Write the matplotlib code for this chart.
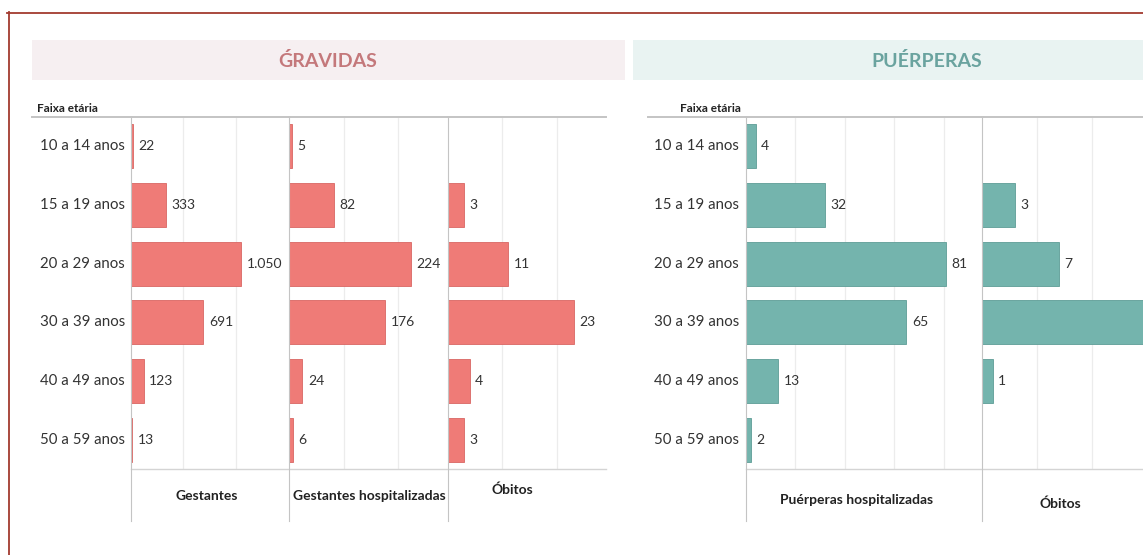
import matplotlib
matplotlib.use("Agg")
import matplotlib.pyplot as plt
from matplotlib.lines import Line2D
from matplotlib.patches import Rectangle

# ---------------- data ----------------
age_groups = ["10 a 14 anos", "15 a 19 anos", "20 a 29 anos",
              "30 a 39 anos", "40 a 49 anos", "50 a 59 anos"]
gestantes = [22, 333, 1050, 691, 123, 13]
gestantes_hosp = [5, 82, 224, 176, 24, 6]
obitos_gravidas = [None, 3, 11, 23, 4, 3]
puerperas_hosp = [4, 32, 81, 65, 13, 2]
obitos_puerperas = [None, 3, 7, 17, 1, None]

group_titles = ["ǴRAVIDAS", "PUÉRPERAS"]
gravidas_columns = ["Gestantes", "Gestantes hospitalizadas", "Óbitos"]
puerperas_columns = ["Puérperas hospitalizadas", "Óbitos"]
row_header = "Faixa etária"

# ---------------- style ----------------
FONT = ["Lato", "DejaVu Sans"]
plt.rcParams["font.family"] = FONT
RED = "#ef7b77"
RED_EDGE = "#d96663"
TEAL = "#74b4ad"
TEAL_EDGE = "#5e9d96"
TXT = "#333333"

W, H = 1143, 555
fig = plt.figure(figsize=(W / 100, H / 100), dpi=100)
fig.patch.set_facecolor("white")


def fx(x):
    return x / W


def fy(y):
    return 1 - y / H


TOP, BOT = 117, 469
ROW_H = (BOT - TOP) / len(age_groups)


def hline(x0, x1, y, color, lw):
    fig.add_artist(Line2D([fx(x0), fx(x1)], [fy(y), fy(y)],
                          transform=fig.transFigure, color=color, lw=lw))


def vline(x, y0, y1, color, lw):
    fig.add_artist(Line2D([fx(x), fx(x)], [fy(y0), fy(y1)],
                          transform=fig.transFigure, color=color, lw=lw))


def fmt(v):
    return f"{v:,}".replace(",", ".")


def add_panel(x0, x1, values, xmax, ticks, color, edge):
    ax = fig.add_axes([fx(x0), fy(BOT), (x1 - x0) / W, (BOT - TOP) / H])
    ax.set_xlim(0, xmax)
    ax.set_ylim(len(age_groups) - 0.5, -0.5)
    ax.set_facecolor("none")
    for s in ax.spines.values():
        s.set_visible(False)
    ax.set_xticks(ticks)
    ax.set_yticks([])
    ax.tick_params(length=0, labelbottom=False, labelleft=False)
    ax.grid(axis="x", color="#ececec", lw=0.9)
    ax.set_axisbelow(True)
    ys = [i for i, v in enumerate(values) if v is not None]
    vs = [v for v in values if v is not None]
    ax.barh(ys, vs, height=0.75, color=color, edgecolor=edge, linewidth=0.6)
    for y, v in zip(ys, vs):
        # value label sits just right of the bar; skip it if that falls
        # beyond the visible (cropped) figure area
        x_disp = ax.transData.transform((v, y))[0]
        if x_disp + 8 > fig.bbox.width:
            continue
        ax.annotate(fmt(v), (v, y), xytext=(4, 0), textcoords="offset points",
                    va="center", ha="left", fontsize=10, color=TXT,
                    annotation_clip=False)
    return ax


# ---------------- border ----------------
BORDER = "#a33a2f"
hline(7, W, 12.5, BORDER, 1.3)
vline(8.5, 12, H, BORDER, 1.3)

# ---------------- title bands ----------------
fig.add_artist(Rectangle((fx(32), fy(80)), (625 - 32) / W, 40 / H,
                         transform=fig.transFigure, facecolor="#f6eff1",
                         edgecolor="none", zorder=0))
fig.add_artist(Rectangle((fx(632.7), fy(80)), (W - 632.7) / W, 40 / H,
                         transform=fig.transFigure, facecolor="#e9f3f2",
                         edgecolor="none", zorder=0))
fig.text(fx(328), fy(61), group_titles[0], ha="center", va="center",
         fontsize=14, fontweight="bold", color="#c4787b")
fig.text(fx(927), fy(61), group_titles[1], ha="center", va="center",
         fontsize=14, fontweight="bold", color="#6aa39f")

# ---------------- panels ----------------
LEFT_PANELS = [(130.7, 289.3), (289.3, 447.7), (447.7, 606)]
RIGHT_PANELS = [(745.7, 981.7), (981.7, 1217.7)]

add_panel(*LEFT_PANELS[0], gestantes, 1506, [500, 1000], RED, RED_EDGE)
add_panel(*LEFT_PANELS[1], gestantes_hosp, 291.7, [100, 200], RED, RED_EDGE)
add_panel(*LEFT_PANELS[2], obitos_gravidas, 28.9, [10, 20], RED, RED_EDGE)
add_panel(*RIGHT_PANELS[0], puerperas_hosp, 95.4, [20, 40, 60, 80], TEAL, TEAL_EDGE)
add_panel(*RIGHT_PANELS[1], obitos_puerperas, 21.45, [5, 10, 15, 20], TEAL, TEAL_EDGE)

# ---------------- structure lines ----------------
LINE = "#c4c4c4"
hline(32, 606, TOP, LINE, 1.4)
hline(648, W, TOP, LINE, 1.4)
hline(130.7, 606, BOT, "#d4d4d4", 1.0)
hline(745.7, W, BOT, "#d4d4d4", 1.0)
for x in [130.7, 289.3, 447.7, 745.7, 981.7]:
    vline(x, TOP, 521, "#c4c4c4", 0.8)

# ---------------- row labels ----------------
fig.text(fx(37), fy(108), row_header, ha="left", va="center",
         fontsize=8.5, fontweight="bold", color="#222222")
fig.text(fx(680), fy(108), row_header, ha="left", va="center",
         fontsize=8.5, fontweight="bold", color="#222222")
for i, lab in enumerate(age_groups):
    yc = TOP + ROW_H * (i + 0.5)
    fig.text(fx(125), fy(yc), lab, ha="right", va="center", fontsize=10.8, color=TXT)
    fig.text(fx(739), fy(yc), lab, ha="right", va="center", fontsize=10.8, color=TXT)

# ---------------- column labels ----------------
col_pos_left = [(207, 496), (369, 496), (512, 490)]
for (x, y), lab in zip(col_pos_left, gravidas_columns):
    fig.text(fx(x), fy(y), lab, ha="center", va="center", fontsize=10,
             fontweight="bold", color="#222222")
col_pos_right = [(857, 500), (1060, 504)]
for (x, y), lab in zip(col_pos_right, puerperas_columns):
    fig.text(fx(x), fy(y), lab, ha="center", va="center", fontsize=10,
             fontweight="bold", color="#222222")

fig.savefig("out.png", dpi=100)
